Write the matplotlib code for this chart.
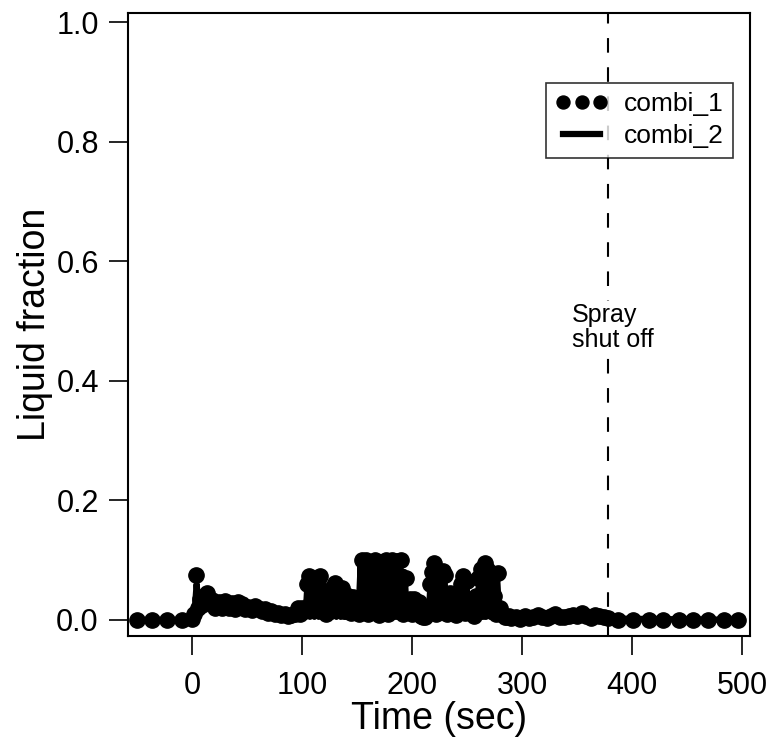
import numpy as np
import matplotlib
matplotlib.use("Agg")
import matplotlib.pyplot as plt

plt.rcParams["font.family"] = ["Liberation Sans", "DejaVu Sans"]

# ---- combi_1 (dots) ----
PRE_T = [-50, -36.4, -22.7, -9, 0]
PRE_Y = [0.0, 0.0, 0.0, 0.0, 0.002]

EARLY_T = [2, 3.5, 5, 7, 9, 11, 13, 15, 18, 21, 24, 27, 30, 33, 36, 39, 42,
           45, 48, 51, 54, 57, 60, 63, 66, 69, 72, 75, 78, 81, 84, 87, 90, 93, 96]
EARLY_Y = [0.01, 0.075, 0.02, 0.035, 0.025, 0.04, 0.045, 0.03, 0.034, 0.02,
           0.03, 0.02, 0.032, 0.02, 0.028, 0.018, 0.03, 0.027, 0.018, 0.022,
           0.016, 0.024, 0.02, 0.014, 0.018, 0.012, 0.015, 0.01, 0.012, 0.008,
           0.01, 0.007, 0.008, 0.01, 0.02]

# spray period, sampled every 2 s from 98 s
SPRAY_T0 = 98
SPRAY_Y = [0.01, 0.02, 0.015, 0.06, 0.073, 0.03, 0.045, 0.02, 0.06, 0.073,
           0.03, 0.045, 0.01, 0.04, 0.025, 0.055, 0.062, 0.02, 0.05, 0.053,
           0.015, 0.042, 0.04, 0.012, 0.038, 0.02, 0.035, 0.01, 0.1, 0.03,
           0.1, 0.01, 0.09, 0.02, 0.1, 0.05, 0.008, 0.097, 0.03, 0.1,
           0.01, 0.085, 0.1, 0.015, 0.098, 0.045, 0.1, 0.01, 0.07, 0.02,
           0.035, 0.01, 0.035, 0.012, 0.03, 0.006, 0.005, 0.004, 0.02, 0.06,
           0.08, 0.095, 0.01, 0.07, 0.015, 0.082, 0.075, 0.01, 0.045, 0.03,
           0.025, 0.008, 0.03, 0.06, 0.073, 0.012, 0.065, 0.03, 0.025, 0.006,
           0.04, 0.07, 0.085, 0.015, 0.095, 0.085, 0.025, 0.079, 0.04, 0.01,
           0.078, 0.02, 0.008, 0.005, 0.004, 0.006, 0.003]

LATE_T = [294, 298, 302, 306, 310, 314, 318, 322, 326, 330, 334, 338, 342,
          346, 350, 354, 358, 362, 366, 370, 374, 378]
LATE_Y = [0.004, 0.002, 0.006, 0.003, 0.005, 0.008, 0.004, 0.003, 0.006, 0.01,
          0.005, 0.004, 0.006, 0.008, 0.006, 0.012, 0.006, 0.003, 0.008, 0.006,
          0.004, 0.003]

POST_T = [387, 401, 415, 428, 442, 455, 469, 483, 496]
POST_Y = [0.0, 0.0, 0.0, 0.0, 0.0, 0.0, 0.0, 0.0, 0.0]

# ---- combi_2 (line) ----
C2_EARLY_T = [-50, 0, 2, 4, 6, 8, 10, 12, 14, 17, 20, 25, 30, 35, 40, 45, 50,
              55, 60, 65, 70, 75, 80, 85, 90, 97]
C2_EARLY_Y = [0.0, 0.0, 0.01, 0.06, 0.015, 0.035, 0.02, 0.04, 0.025, 0.035,
              0.02, 0.03, 0.018, 0.028, 0.016, 0.026, 0.015, 0.022, 0.013,
              0.02, 0.01, 0.015, 0.008, 0.01, 0.006, 0.012]

# spray period, sampled every 2 s from 99 s
C2_SPRAY_T0 = 99
C2_SPRAY_Y = [0.005, 0.02, 0.005, 0.07, 0.005, 0.04, 0.005, 0.05, 0.005, 0.07,
              0.005, 0.045, 0.005, 0.04, 0.005, 0.06, 0.005, 0.05, 0.005, 0.05,
              0.005, 0.04, 0.005, 0.038, 0.005, 0.035, 0.005, 0.09, 0.005, 0.1,
              0.005, 0.1, 0.005, 0.1, 0.005, 0.1, 0.005, 0.1, 0.005, 0.1,
              0.005, 0.1, 0.005, 0.1, 0.005, 0.1, 0.005, 0.08, 0.005, 0.04,
              0.005, 0.035, 0.005, 0.03, 0.005, 0.008, 0.003, 0.01, 0.005, 0.08,
              0.005, 0.09, 0.005, 0.07, 0.005, 0.08, 0.005, 0.04, 0.005, 0.03,
              0.005, 0.025, 0.005, 0.07, 0.005, 0.07, 0.005, 0.03, 0.005, 0.025,
              0.005, 0.08, 0.005, 0.09, 0.005, 0.09, 0.005, 0.079, 0.005, 0.075,
              0.005, 0.015, 0.004, 0.008, 0.003, 0.005]

C2_LATE_T = [292, 300, 310, 320, 330, 340, 355, 365, 372, 380, 500]
C2_LATE_Y = [0.004, 0.004, 0.007, 0.006, 0.009, 0.005, 0.01, 0.006, 0.004,
             0.002, 0.0]

SHUTOFF = 378

spray_t = SPRAY_T0 + 2 * np.arange(len(SPRAY_Y))
t1 = np.concatenate([PRE_T, EARLY_T, spray_t, LATE_T, POST_T])
y1 = np.concatenate([PRE_Y, EARLY_Y, SPRAY_Y, LATE_Y, POST_Y])

c2_spray_t = C2_SPRAY_T0 + 2 * np.arange(len(C2_SPRAY_Y))
t2 = np.concatenate([C2_EARLY_T, c2_spray_t, C2_LATE_T])
y2 = np.concatenate([C2_EARLY_Y, C2_SPRAY_Y, C2_LATE_Y])

fig = plt.figure(figsize=(7.73, 7.44), dpi=100)
ax = fig.add_axes([0.1656, 0.1452, 0.8047, 0.8367])

ax.plot(t1, y1, "o", color="black", markersize=11, label="combi_1")
ax.plot(t2, y2, "-", color="black", linewidth=4.5, label="combi_2")
ax.axvline(SHUTOFF, color="black", linewidth=1.5, linestyle=(0, (7, 7)))
ax.text(345, 0.49, "Spray\nshut off", fontsize=18, ha="left", va="center",
        linespacing=1.05,
        bbox=dict(facecolor="white", edgecolor="none", pad=1))

ax.set_xlim(-58.4, 507)
ax.set_ylim(-0.027, 1.015)
ax.set_xticks([0, 100, 200, 300, 400, 500])
ax.set_yticks([0.0, 0.2, 0.4, 0.6, 0.8, 1.0])
ax.set_yticklabels(["0.0", "0.2", "0.4", "0.6", "0.8", "1.0"])
ax.tick_params(direction="out", length=14, width=1.2, labelsize=22)
ax.tick_params(axis="x", pad=11)
ax.tick_params(axis="y", pad=7)
for s in ax.spines.values():
    s.set_linewidth(1.5)

ax.set_xlabel("Time (sec)", fontsize=27, labelpad=0)
ax.set_ylabel("Liquid fraction", fontsize=27, labelpad=2)

leg = ax.legend(loc="upper right", bbox_to_anchor=(0.973, 0.888),
                borderaxespad=0, fontsize=19, numpoints=3, handlelength=2.0,
                frameon=True, fancybox=False, borderpad=0.35,
                labelspacing=0.3, handletextpad=0.6, markerscale=0.85)
leg.get_frame().set_edgecolor("black")
leg.get_frame().set_linewidth(1.2)

fig.savefig("out.png", dpi=100)
